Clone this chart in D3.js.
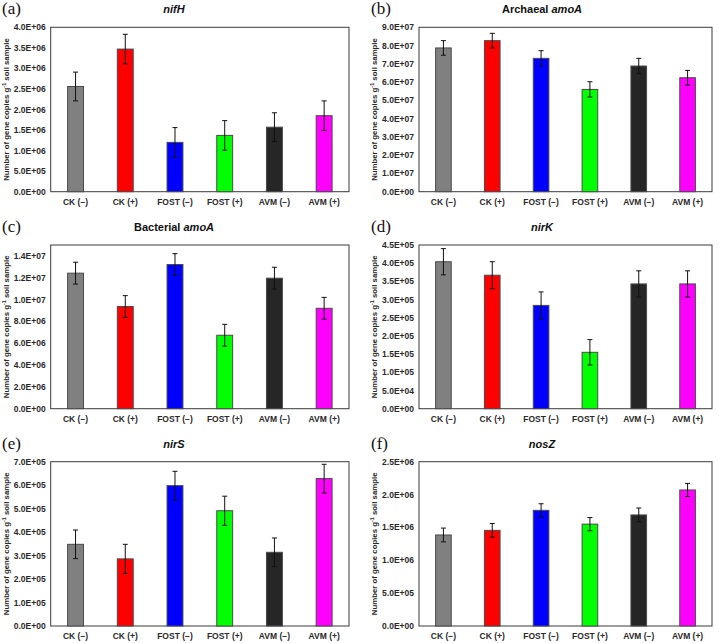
<!DOCTYPE html>
<html>
<head>
<meta charset="utf-8">
<script src="https://cdn.jsdelivr.net/npm/d3@7"></script>
<style>
  body { margin: 0; background: #fff; }
  svg { display: block; font-family: "Liberation Sans", Arial, sans-serif; }
</style>
</head>
<body>
<div id="chart"></div>
<script>
// categories and colours
const categories = ["CK (\u2212)", "CK (+)", "FOST (\u2212)", "FOST (+)", "AVM (\u2212)", "AVM (+)"];
const barColors = ["#808080", "#ff0000", "#0000ff", "#00ff00", "#262626", "#ff00ff"];

// values (gene copies per g soil)
const nifH = [2.56e6, 3.47e6, 1.20e6, 1.37e6, 1.57e6, 1.85e6];
const nifHErr = [0.35e6, 0.36e6, 0.36e6, 0.36e6, 0.35e6, 0.36e6];
const archAmoA = [7.87e7, 8.27e7, 7.30e7, 5.60e7, 6.88e7, 6.24e7];
const archAmoAErr = [0.40e7, 0.40e7, 0.42e7, 0.42e7, 0.42e7, 0.40e7];
const bactAmoA = [1.242e7, 0.936e7, 1.321e7, 0.673e7, 1.196e7, 0.920e7];
const bactAmoAErr = [0.10e7, 0.10e7, 0.10e7, 0.10e7, 0.10e7, 0.10e7];
const nirK = [4.04e5, 3.67e5, 2.84e5, 1.55e5, 3.43e5, 3.43e5];
const nirKErr = [0.36e5, 0.37e5, 0.37e5, 0.35e5, 0.36e5, 0.36e5];
const nirS = [3.48e5, 2.86e5, 5.98e5, 4.91e5, 3.14e5, 6.28e5];
const nirSErr = [0.61e5, 0.62e5, 0.61e5, 0.62e5, 0.61e5, 0.61e5];
const nosZ = [1.385e6, 1.455e6, 1.76e6, 1.55e6, 1.69e6, 2.07e6];
const nosZErr = [0.105e6, 0.105e6, 0.10e6, 0.10e6, 0.105e6, 0.10e6];

// y axis ranges and tick steps
const yMax = [4e6, 9e7, 1.5e7, 4.5e5, 7e5, 2.5e6];
const yStep = [5e5, 1e7, 2e6, 5e4, 1e5, 5e5];

const panelLetters = ["(a)", "(b)", "(c)", "(d)", "(e)", "(f)"];
// title pieces: [normal part, italic part]
const panelTitles = [["", "nifH"], ["Archaeal ", "amoA"], ["Bacterial ", "amoA"], ["", "nirK"], ["", "nirS"], ["", "nosZ"]];

const seriesValues = [nifH, archAmoA, bactAmoA, nirK, nirS, nosZ];
const seriesErrors = [nifHErr, archAmoAErr, bactAmoAErr, nirKErr, nirSErr, nosZErr];

const width = 719, height = 643;

// frame boxes of the plot areas
const colX = [[50.7, 349], [419, 712]];
const rowY = [[27.3, 191.7], [245, 408.7], [461.7, 626]];

const svg = d3.select("#chart").append("svg")
  .attr("width", width)
  .attr("height", height);

function sci(v) {
  if (v === 0) return "0.0E+00";
  const e = Math.floor(Math.log10(v) + 1e-9);
  const m = v / Math.pow(10, e);
  return m.toFixed(1) + "E" + (e < 0 ? "-" : "+") + String(Math.abs(e)).padStart(2, "0");
}

seriesValues.forEach(function(values, i) {
  const col = i % 2, row = Math.floor(i / 2);
  const [x0, x1] = colX[col];
  const [y0, y1] = rowY[row];
  const errs = seriesErrors[i];

  const x = d3.scaleBand().domain(categories).range([x0, x1]).paddingInner(0.68).paddingOuter(0.34);
  const y = d3.scaleLinear().domain([0, yMax[i]]).range([y1, y0]);

  const g = svg.append("g");

  // plot frame
  g.append("rect")
    .attr("x", x0).attr("y", y0)
    .attr("width", x1 - x0).attr("height", y1 - y0)
    .attr("fill", "none").attr("stroke", "#3a3a3a").attr("stroke-width", 1);

  // y tick labels
  const ticks = d3.range(0, yMax[i] + yStep[i] / 2, yStep[i]).filter(t => t <= yMax[i] + 1e-6);
  g.selectAll(".yt").data(ticks).enter().append("text")
    .attr("x", x0 - 5)
    .attr("y", d => y(d) + 3)
    .attr("text-anchor", "end")
    .attr("font-size", 8.5).attr("font-weight", "bold")
    .attr("fill", "#2a2a2a")
    .text(d => sci(d));

  // bars
  g.selectAll(".bar").data(values).enter().append("rect")
    .attr("x", (d, j) => x(categories[j]))
    .attr("y", d => y(d))
    .attr("width", x.bandwidth())
    .attr("height", d => y1 - y(d))
    .attr("fill", (d, j) => barColors[j])
    .attr("stroke", "#4a4a4a").attr("stroke-width", 1);

  // error bars
  const eb = g.selectAll(".err").data(values).enter().append("g");
  const cx = j => x(categories[j]) + x.bandwidth() / 2;
  eb.append("line")
    .attr("x1", (d, j) => cx(j)).attr("x2", (d, j) => cx(j))
    .attr("y1", (d, j) => y(d - errs[j])).attr("y2", (d, j) => y(d + errs[j]))
    .attr("stroke", "#111").attr("stroke-width", 1);
  eb.append("line")
    .attr("x1", (d, j) => cx(j) - 2.5).attr("x2", (d, j) => cx(j) + 2.5)
    .attr("y1", (d, j) => y(d + errs[j])).attr("y2", (d, j) => y(d + errs[j]))
    .attr("stroke", "#111").attr("stroke-width", 1);
  eb.append("line")
    .attr("x1", (d, j) => cx(j) - 2.5).attr("x2", (d, j) => cx(j) + 2.5)
    .attr("y1", (d, j) => y(d - errs[j])).attr("y2", (d, j) => y(d - errs[j]))
    .attr("stroke", "#111").attr("stroke-width", 1);

  // category labels
  g.selectAll(".xl").data(categories).enter().append("text")
    .attr("x", d => x(d) + x.bandwidth() / 2)
    .attr("y", y1 + 13)
    .attr("text-anchor", "middle")
    .attr("font-size", 8.5).attr("font-weight", "bold")
    .attr("fill", "#2a2a2a")
    .text(d => d);

  // y axis title
  const yl = g.append("text")
    .attr("transform", `translate(${col === 0 ? 8.5 : 377},${(y0 + y1) / 2}) rotate(-90)`)
    .attr("text-anchor", "middle")
    .attr("font-size", 7.8).attr("font-weight", "bold")
    .attr("fill", "#2a2a2a");
  yl.append("tspan").text("Number of gene copies g");
  yl.append("tspan").attr("dy", -3).attr("font-size", 5.5).text("-1");
  yl.append("tspan").attr("dy", 3).text(" soil sample");

  // panel letter
  g.append("text")
    .attr("x", col === 0 ? 2 : 371)
    .attr("y", y0 - 13)
    .attr("font-family", "'Liberation Serif', 'Times New Roman', serif")
    .attr("font-size", 17)
    .attr("fill", "#111")
    .text(panelLetters[i]);

  // panel title
  const t = g.append("text")
    .attr("x", col === 0 ? 174 : 542)
    .attr("y", y0 - 14)
    .attr("text-anchor", "middle")
    .attr("font-size", 11).attr("font-weight", "bold")
    .attr("fill", "#111");
  if (panelTitles[i][0]) t.append("tspan").text(panelTitles[i][0]);
  t.append("tspan").attr("font-style", "italic").text(panelTitles[i][1]);
});
</script>
</body>
</html>
